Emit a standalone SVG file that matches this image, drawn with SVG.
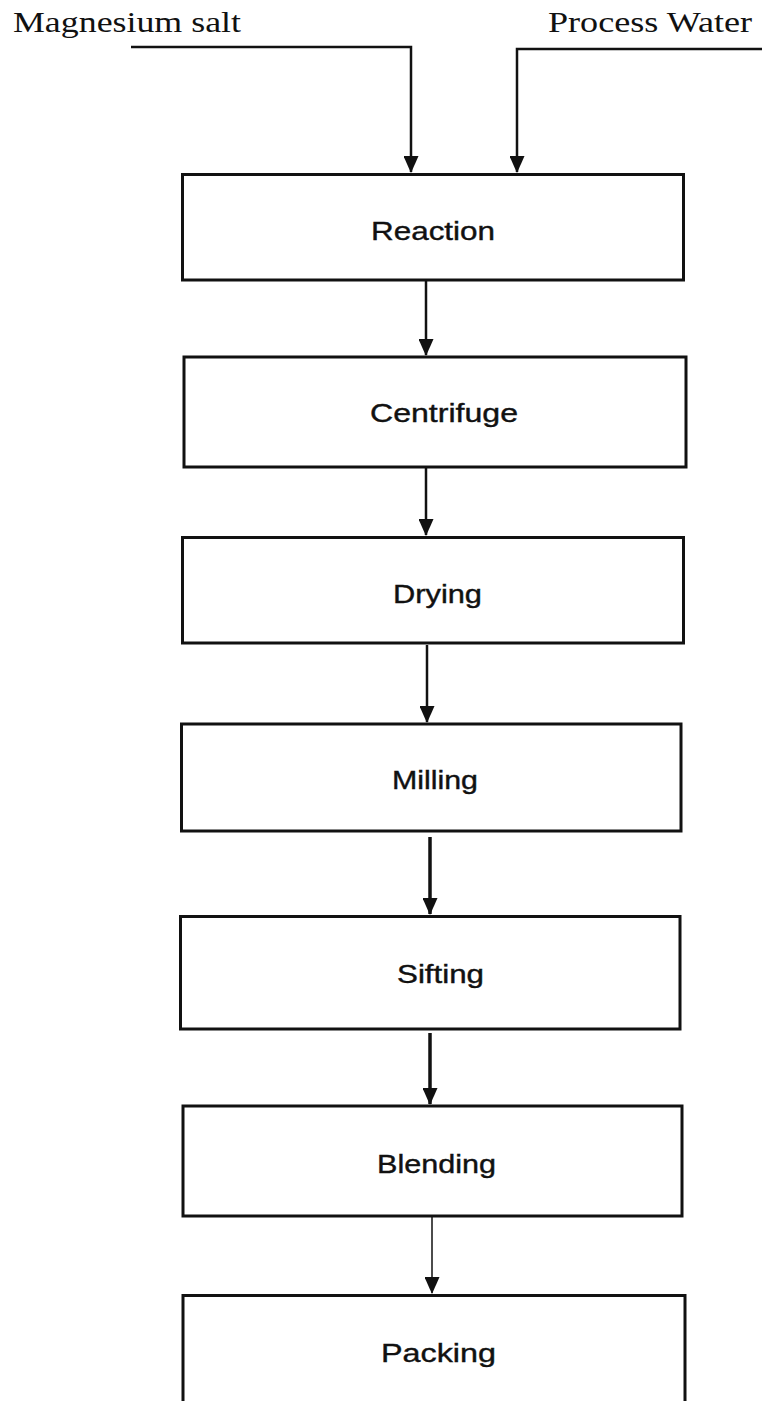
<svg xmlns="http://www.w3.org/2000/svg" width="762" height="1401" viewBox="0 0 762 1401">
<style>
.box{fill:#fff;stroke:#111;stroke-width:3}
.lbl{font-family:"Liberation Sans",Arial,sans-serif;font-size:26px;fill:#111;stroke:#111;stroke-width:0.4}
.in{font-family:"Liberation Serif","Times New Roman",serif;font-size:30px;fill:#111}
.con{fill:none;stroke:#111;stroke-width:2.5}
</style>
<defs>
<marker id="ah" markerUnits="userSpaceOnUse" markerWidth="17" markerHeight="15" viewBox="0 0 17 15" refX="16" refY="7.5" orient="auto">
<path d="M0,0 L17,7.5 L0,15 z" fill="#111"/>
</marker>
</defs>
<rect width="762" height="1401" fill="#fff"/>
<g id="inputs">
<text class="in" x="13" y="32" textLength="228" lengthAdjust="spacingAndGlyphs">Magnesium salt</text>
<text class="in" x="548" y="32" textLength="204" lengthAdjust="spacingAndGlyphs">Process Water</text>
</g>
<g id="connectors">
<polyline class="con" points="131,47 411,47 411,172" marker-end="url(#ah)"/>
<polyline class="con" points="762,49 517,49 517,172" marker-end="url(#ah)"/>
<line class="con" x1="426" y1="280" x2="426" y2="355" marker-end="url(#ah)"/>
<line class="con" x1="426" y1="467" x2="426" y2="535" marker-end="url(#ah)"/>
<line class="con" x1="427" y1="645" x2="427" y2="722" marker-end="url(#ah)"/>
<line class="con" x1="430" y1="837" x2="430" y2="914" marker-end="url(#ah)" style="stroke-width:3.5"/>
<line class="con" x1="430" y1="1033" x2="430" y2="1104" marker-end="url(#ah)" style="stroke-width:3.5"/>
<line class="con" x1="432" y1="1216" x2="432" y2="1293" marker-end="url(#ah)" style="stroke-width:1.5"/>
</g>
<g id="reaction">
<rect class="box" x="182.5" y="174.5" width="501" height="105.5"/>
<text class="lbl" x="371" y="240" textLength="124" lengthAdjust="spacingAndGlyphs">Reaction</text>
</g>
<g id="centrifuge">
<rect class="box" x="184" y="357" width="502" height="110"/>
<text class="lbl" x="370" y="422" textLength="148" lengthAdjust="spacingAndGlyphs">Centrifuge</text>
</g>
<g id="drying">
<rect class="box" x="182.5" y="537.5" width="501" height="105.5"/>
<text class="lbl" x="393" y="603" textLength="89" lengthAdjust="spacingAndGlyphs">Drying</text>
</g>
<g id="milling">
<rect class="box" x="181.5" y="724" width="499.5" height="107"/>
<text class="lbl" x="392" y="789" textLength="86" lengthAdjust="spacingAndGlyphs">Milling</text>
</g>
<g id="sifting">
<rect class="box" x="180.5" y="916.5" width="499.5" height="112.5"/>
<text class="lbl" x="397" y="983" textLength="87" lengthAdjust="spacingAndGlyphs">Sifting</text>
</g>
<g id="blending">
<rect class="box" x="183" y="1106" width="499" height="110"/>
<text class="lbl" x="377" y="1173" textLength="119" lengthAdjust="spacingAndGlyphs">Blending</text>
</g>
<g id="packing">
<rect class="box" x="183" y="1295.5" width="502" height="112"/>
<text class="lbl" x="381" y="1362" textLength="115" lengthAdjust="spacingAndGlyphs">Packing</text>
</g>
</svg>
